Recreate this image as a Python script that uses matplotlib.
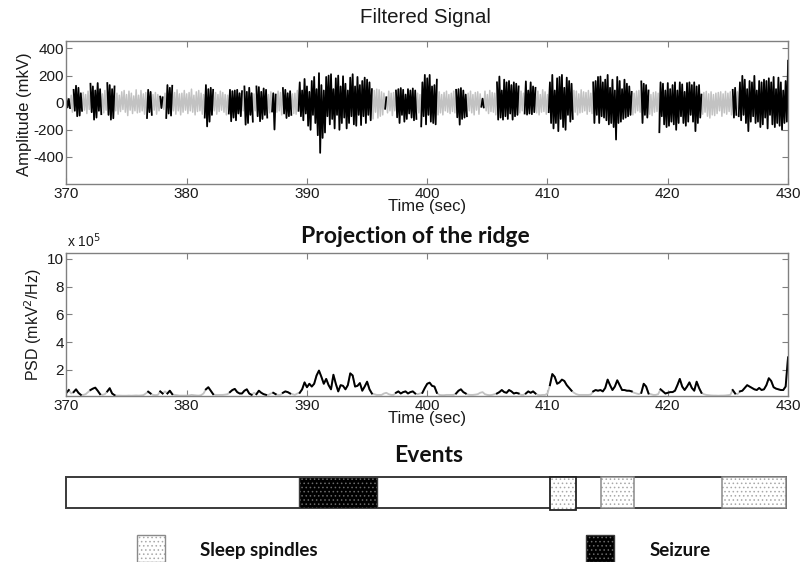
import numpy as np
import matplotlib
matplotlib.use("Agg")
import matplotlib.pyplot as plt
from matplotlib.patches import Rectangle

# ---------------- data ----------------
t_start = 370.0
signal_step = 0.1          # seconds between signal readings
amplitude = [
    30, -35, 28, -40, 55, -70, 95, -60, 125, -100,
    110, -95, 70, -60, 75, -55, 60, -80, 85, -50,
    140, -70, 120, -125, 90, -110, 145, -60, 100, -85,
    65, -75, 90, -55, 145, -90, 130, -125, 100, -115,
    120, -60, 70, -85, 55, -65, 80, -50, 90, -70,
    60, -95, 85, -55, 70, -80, 50, -60, 95, -75,
    55, -70, 90, -60, 65, -85, 75, -113, 95, -70,
    80, -90, 60, -55, 75, -85, 60, -60, 45, -40,
    40, -50, 70, -113, 130, -80, 110, -95, 125, -60,
    75, -85, 95, -60, 65, -90, 70, -70, 90, -55,
    65, -80, 75, -60, 100, -70, 55, -90, 80, -65,
    90, -60, 70, -85, 60, -110, 130, -175, 100, -140,
    110, -90, 95, -60, 75, -85, 60, -65, 85, -55,
    75, -70, 60, -90, 55, -80, 95, -137, 85, -110,
    90, -130, 95, -80, 70, -100, 85, -60, 120, -162,
    80, -150, 110, -90, 70, -140, 65, -60, 120, -100,
    115, -137, 80, -120, 105, -90, 95, -110, 60, -75,
    80, -65, 70, -198, 60, -70, 85, -60, 75, -90,
    108, -80, 95, -113, 70, -100, 85, -90, 65, -80,
    70, -85, 90, -60, 150, -100, 90, -130, 175, -80,
    120, -170, 80, -200, 160, -90, 190, -150, 100, -240,
    218, -370, 130, -260, 90, -220, 190, -100, 200, -160,
    210, -120, 100, -190, 180, -90, 200, -200, 120, -150,
    195, -110, 140, -190, 90, -150, 185, -100, 210, -160,
    120, -170, 190, -90, 130, -165, 160, -100, 185, -150,
    170, -90, 150, -130, 100, -120, 90, -70, 100, -113,
    95, -100, 80, -90, 70, -45, 40, -75, 85, -60,
    70, -95, 75, -60, 90, -108, 100, -150, 108, -90,
    95, -140, 60, -120, 100, -80, 90, -110, 105, -130,
    90, -120, 70, -75, 60, -175, 150, -100, 205, -160,
    180, -90, 205, -140, 120, -150, 130, -160, 170, -90,
    80, -75, 60, -90, 75, -60, 85, -70, 60, -80,
    70, -65, 85, -75, 95, -108, 100, -162, 108, -120,
    90, -110, 60, -100, 70, -60, 85, -75, 60, -90,
    75, -55, 80, -85, 65, -30, 30, -35, 85, -60,
    60, -80, 90, -65, 75, -70, 70, -90, 150, -125,
    193, -110, 90, -125, 170, -100, 150, -120, 160, -80,
    130, -125, 150, -100, 140, -90, 120, -75, 85, -60,
    70, -80, 157, -88, 90, -80, 150, -85, 120, -70,
    110, -75, 85, -90, 60, -70, 95, -65, 80, -85,
    60, -70, 150, -150, 205, -190, 90, -150, 180, -210,
    190, -120, 205, -180, 110, -200, 185, -90, 160, -140,
    140, -120, 90, -70, 85, -90, 65, -75, 95, -70,
    80, -60, 75, -85, 90, -65, 70, -80, 150, -150,
    160, -90, 190, -150, 193, -100, 150, -110, 170, -130,
    205, -160, 110, -150, 170, -180, 90, -272, 190, -150,
    160, -140, 100, -120, 170, -110, 140, -100, 120, -90,
    80, -90, 70, -75, 85, -60, 90, -70, 157, -150,
    140, -90, 130, -110, 90, -85, 60, -95, 75, -70,
    80, -65, 70, -218, 150, -100, 140, -160, 90, -180,
    145, -170, 100, -140, 130, -160, 150, -200, 90, -150,
    150, -100, 135, -150, 80, -170, 145, -140, 150, -90,
    130, -140, 150, -210, 120, -150, 130, -110, 60, -85,
    75, -70, 83, -100, 65, -113, 80, -90, 60, -95,
    70, -80, 75, -60, 80, -100, 65, -75, 83, -85,
    70, -65, 80, -90, 95, -110, 110, -90, 80, -100,
    150, -130, 198, -90, 170, -150, 100, -210, 160, -140,
    150, -100, 198, -150, 90, -140, 160, -180, 150, -160,
    170, -110, 160, -190, 180, -90, 150, -160, 190, -180,
    100, -150, 185, -170, 150, -200, 90, -150, 160, -140,
    310,
]

psd_step = 0.2             # seconds between PSD readings
psd_e5 = [
    0.35, 0.55, 0.30, 0.40, 0.60,
    0.35, 0.20, 0.20, 0.25, 0.40,
    0.55, 0.65, 0.72, 0.50, 0.25,
    0.20, 0.25, 0.45, 0.68, 0.30,
    0.18, 0.15, 0.15, 0.14, 0.14,
    0.14, 0.15, 0.14, 0.15, 0.16,
    0.15, 0.16, 0.18, 0.30, 0.43,
    0.30, 0.20, 0.18, 0.20, 0.45,
    0.30, 0.45, 0.30, 0.50, 0.25,
    0.20, 0.18, 0.15, 0.15, 0.15,
    0.15, 0.16, 0.20, 0.18, 0.16,
    0.15, 0.18, 0.30, 0.60, 0.75,
    0.50, 0.25, 0.20, 0.20, 0.20,
    0.20, 0.22, 0.25, 0.40, 0.55,
    0.63, 0.40, 0.30, 0.30, 0.50,
    0.60, 0.30, 0.20, 0.35, 0.25,
    0.50, 0.35, 0.25, 0.20, 0.20,
    0.30, 0.35, 0.25, 0.20, 0.20,
    0.35, 0.45, 0.40, 0.30, 0.25,
    0.20, 0.30, 0.35, 0.60, 1.10,
    0.75, 1.00, 0.80, 1.00, 1.60,
    1.95, 1.50, 1.00, 1.35, 0.90,
    0.60, 1.65, 1.00, 0.45, 0.90,
    0.85, 0.60, 0.90, 1.75, 1.60,
    0.80, 0.85, 1.05, 0.50, 0.80,
    1.15, 0.60, 0.30, 0.25, 0.20,
    0.20, 0.20, 0.30, 0.35, 0.25,
    0.20, 0.20, 0.35, 0.45, 0.30,
    0.40, 0.45, 0.30, 0.40, 0.45,
    0.30, 0.25, 0.30, 0.35, 0.70,
    1.00, 1.08, 0.85, 0.80, 0.35,
    0.20, 0.18, 0.18, 0.20, 0.20,
    0.20, 0.20, 0.30, 0.50, 0.60,
    0.40, 0.30, 0.22, 0.20, 0.20,
    0.22, 0.25, 0.35, 0.40, 0.25,
    0.20, 0.18, 0.20, 0.25, 0.30,
    0.40, 0.55, 0.40, 0.35, 0.55,
    0.45, 0.30, 0.35, 0.30, 0.20,
    0.20, 0.30, 0.45, 0.35, 0.45,
    0.30, 0.20, 0.18, 0.20, 0.20,
    0.30, 0.90, 1.70, 1.50, 1.00,
    1.10, 1.30, 1.20, 0.90, 0.70,
    0.50, 0.35, 0.25, 0.20, 0.20,
    0.20, 0.20, 0.20, 0.22, 0.45,
    0.55, 0.50, 0.55, 0.45, 0.70,
    1.30, 0.90, 0.55, 0.80, 1.25,
    0.90, 0.55, 0.55, 0.50, 0.50,
    0.45, 0.35, 0.30, 0.25, 0.35,
    1.00, 0.80, 0.30, 0.25, 0.20,
    0.20, 0.25, 0.60, 0.45, 0.30,
    0.35, 0.40, 0.40, 0.50, 0.90,
    1.35, 0.80, 0.55, 0.80, 1.10,
    0.70, 0.50, 1.15, 0.70, 0.35,
    0.25, 0.20, 0.18, 0.16, 0.15,
    0.15, 0.14, 0.15, 0.15, 0.16,
    0.18, 0.20, 0.55, 0.30, 0.25,
    0.45, 0.50, 0.70, 0.90, 0.80,
    0.70, 0.60, 0.55, 0.70, 0.55,
    0.60, 0.90, 1.40, 1.20, 0.75,
    0.65, 0.60, 0.55, 0.55, 0.80,
    2.90,
]

# detected bursts (drawn in black on the signal and the PSD)
burst_segments = [
    (370.0, 370.3), (370.6, 371.3), (372.0, 372.9), (373.4, 374.0),
    (376.7, 377.1), (377.8, 378.0), (378.3, 378.8), (381.5, 382.2),
    (383.5, 384.6), (384.8, 385.5), (385.8, 386.7), (387.1, 387.4),
    (388.0, 388.7), (389.3, 395.4), (396.5, 396.6), (397.4, 399.1),
    (399.5, 400.8), (402.4, 403.3), (404.5, 404.7), (405.8, 407.6),
    (408.1, 409.0), (410.1, 412.1), (413.8, 417.0), (417.8, 418.4),
    (419.3, 422.8), (425.4, 425.7), (425.9, 430.0),
]

seizure_events = [(389.4, 395.9)]
spindle_events = [(410.35, 412.5), (414.55, 417.3), (424.65, 430.0)]

time_ticks = [370, 380, 390, 400, 410, 420, 430]
amp_ticks = [400, 200, 0, -200, -400]
psd_ticks = [2, 4, 6, 8, 10]

# ---------------- styling ----------------
plt.rcParams["font.family"] = ["Liberation Sans", "DejaVu Sans"]
plt.rcParams["axes.unicode_minus"] = False
plt.rcParams["hatch.linewidth"] = 0.6
TITLE_FONT = ["Lato", "Open Sans", "DejaVu Sans"]
SPINE = "#808080"
GRAY = "#c2c2c2"
TXT = "#1a1a1a"

fig = plt.figure(figsize=(8.02, 5.62), dpi=100)
ax1 = fig.add_axes([0.0828, 0.6726, 0.8998, 0.2544])
ax2 = fig.add_axes([0.0828, 0.2954, 0.8998, 0.2539])
ax3 = fig.add_axes([0.0823, 0.0961, 0.8978, 0.0552])


def burst_mask(t):
    m = np.zeros_like(t, dtype=bool)
    for s, e in burst_segments:
        m |= (t >= s - 1e-9) & (t <= e + 1e-9)
    return m


def style_axis(ax):
    for sp in ax.spines.values():
        sp.set_color(SPINE)
        sp.set_linewidth(1.0)
    ax.tick_params(direction="in", top=True, right=True, length=4,
                   color=SPINE, labelsize=11, labelcolor=TXT, pad=2)
    ax.set_xlim(370, 430)
    ax.set_xticks(time_ticks)


# ---- top: filtered signal ----
amp = np.array(amplitude, dtype=float)
t_sig = t_start + np.arange(len(amp)) * signal_step
ax1.plot(t_sig, amp, color=GRAY, lw=1.1)
amp_black = np.where(burst_mask(t_sig), amp, np.nan)
ax1.plot(t_sig, amp_black, color="black", lw=1.25)
ax1.set_ylim(-600, 455)
ax1.set_yticks(amp_ticks)
style_axis(ax1)
ax1.set_ylabel("Amplitude (mkV)", fontsize=12, color=TXT)
ax1.yaxis.set_label_coords(-0.047, 0.49)
ax1.set_xlabel("Time (sec)", fontsize=12, labelpad=-1, color=TXT)

# ---- middle: projection of the ridge ----
psd = np.array(psd_e5, dtype=float)
t_psd = t_start + np.arange(len(psd)) * psd_step
ax2.plot(t_psd, psd, color=GRAY, lw=1.3)
psd_black = np.where(burst_mask(t_psd), psd, np.nan)
ax2.plot(t_psd, psd_black, color="black", lw=1.4)
ax2.set_ylim(0.12, 10.4)
ax2.set_yticks(psd_ticks)
style_axis(ax2)
ax2.set_ylabel("PSD (mkV$^2$/Hz)", fontsize=11.5, color=TXT)
ax2.yaxis.set_label_coords(-0.031, 0.5)
ax2.set_xlabel("Time (sec)", fontsize=12, labelpad=-1, color=TXT)
fig.text(0.0835, 0.556, r"x 10$^5$", fontsize=10, color=TXT,
         ha="left", va="bottom")

# ---- bottom: events ----
ax3.set_xlim(370, 430)
ax3.set_ylim(0, 1)
ax3.axis("off")
ax3.add_patch(Rectangle((370, 0), 60, 1, facecolor="white",
                        edgecolor="#3a3a3a", lw=1.4, clip_on=False))
for s, e in seizure_events:
    ax3.add_patch(Rectangle((s, 0), e - s, 1, facecolor="black",
                            edgecolor="#6a6a6a", hatch="....", lw=0))
    ax3.add_patch(Rectangle((s, 0), e - s, 1, fill=False,
                            edgecolor="#3a3a3a", lw=1.0))
for i, (s, e) in enumerate(spindle_events):
    y0 = -0.07 if i == 0 else 0
    ax3.add_patch(Rectangle((s, y0), e - s, 1 - y0, facecolor="white",
                            edgecolor="#a8a8a8", hatch="....", lw=0,
                            clip_on=False))
    ax3.add_patch(Rectangle((s, y0), e - s, 1 - y0, fill=False,
                            edgecolor="#222222" if i == 0 else "#8a8a8a",
                            lw=1.3 if i == 0 else 1.1, clip_on=False))

# titles
fig.text(0.531, 0.968, "Filtered Signal", fontsize=14.8, ha="center",
         va="center", color=TXT)
fig.text(0.518, 0.580, "Projection of the ridge", fontsize=16.5,
         fontweight="bold", family=TITLE_FONT, ha="center", va="center",
         color="#111111")
fig.text(0.534, 0.190, "Events", fontsize=16.5, fontweight="bold",
         family=TITLE_FONT, ha="center", va="center", color="#111111")

# legend
leg_items = [
    ((0.1708, 0.0), "Sleep spindles", "white", "#a8a8a8", "#8a8a8a", 0.250),
    ((0.7307, 0.0), "Seizure", "black", "#6a6a6a", "#3a3a3a", 0.8100),
]
for (x0, y0), label, fc, hc, ec, tx in leg_items:
    fig.add_artist(Rectangle((x0, y0), 0.035, 0.048, transform=fig.transFigure,
                             facecolor=fc, edgecolor=hc, hatch="....", lw=0))
    fig.add_artist(Rectangle((x0, y0), 0.035, 0.048, transform=fig.transFigure,
                             fill=False, edgecolor=ec, lw=1.0))
    fig.text(tx, 0.021, label, fontsize=13.5, fontweight="bold",
             family=TITLE_FONT, ha="left", va="center", color="#111111")

fig.savefig("out.png", dpi=100)
